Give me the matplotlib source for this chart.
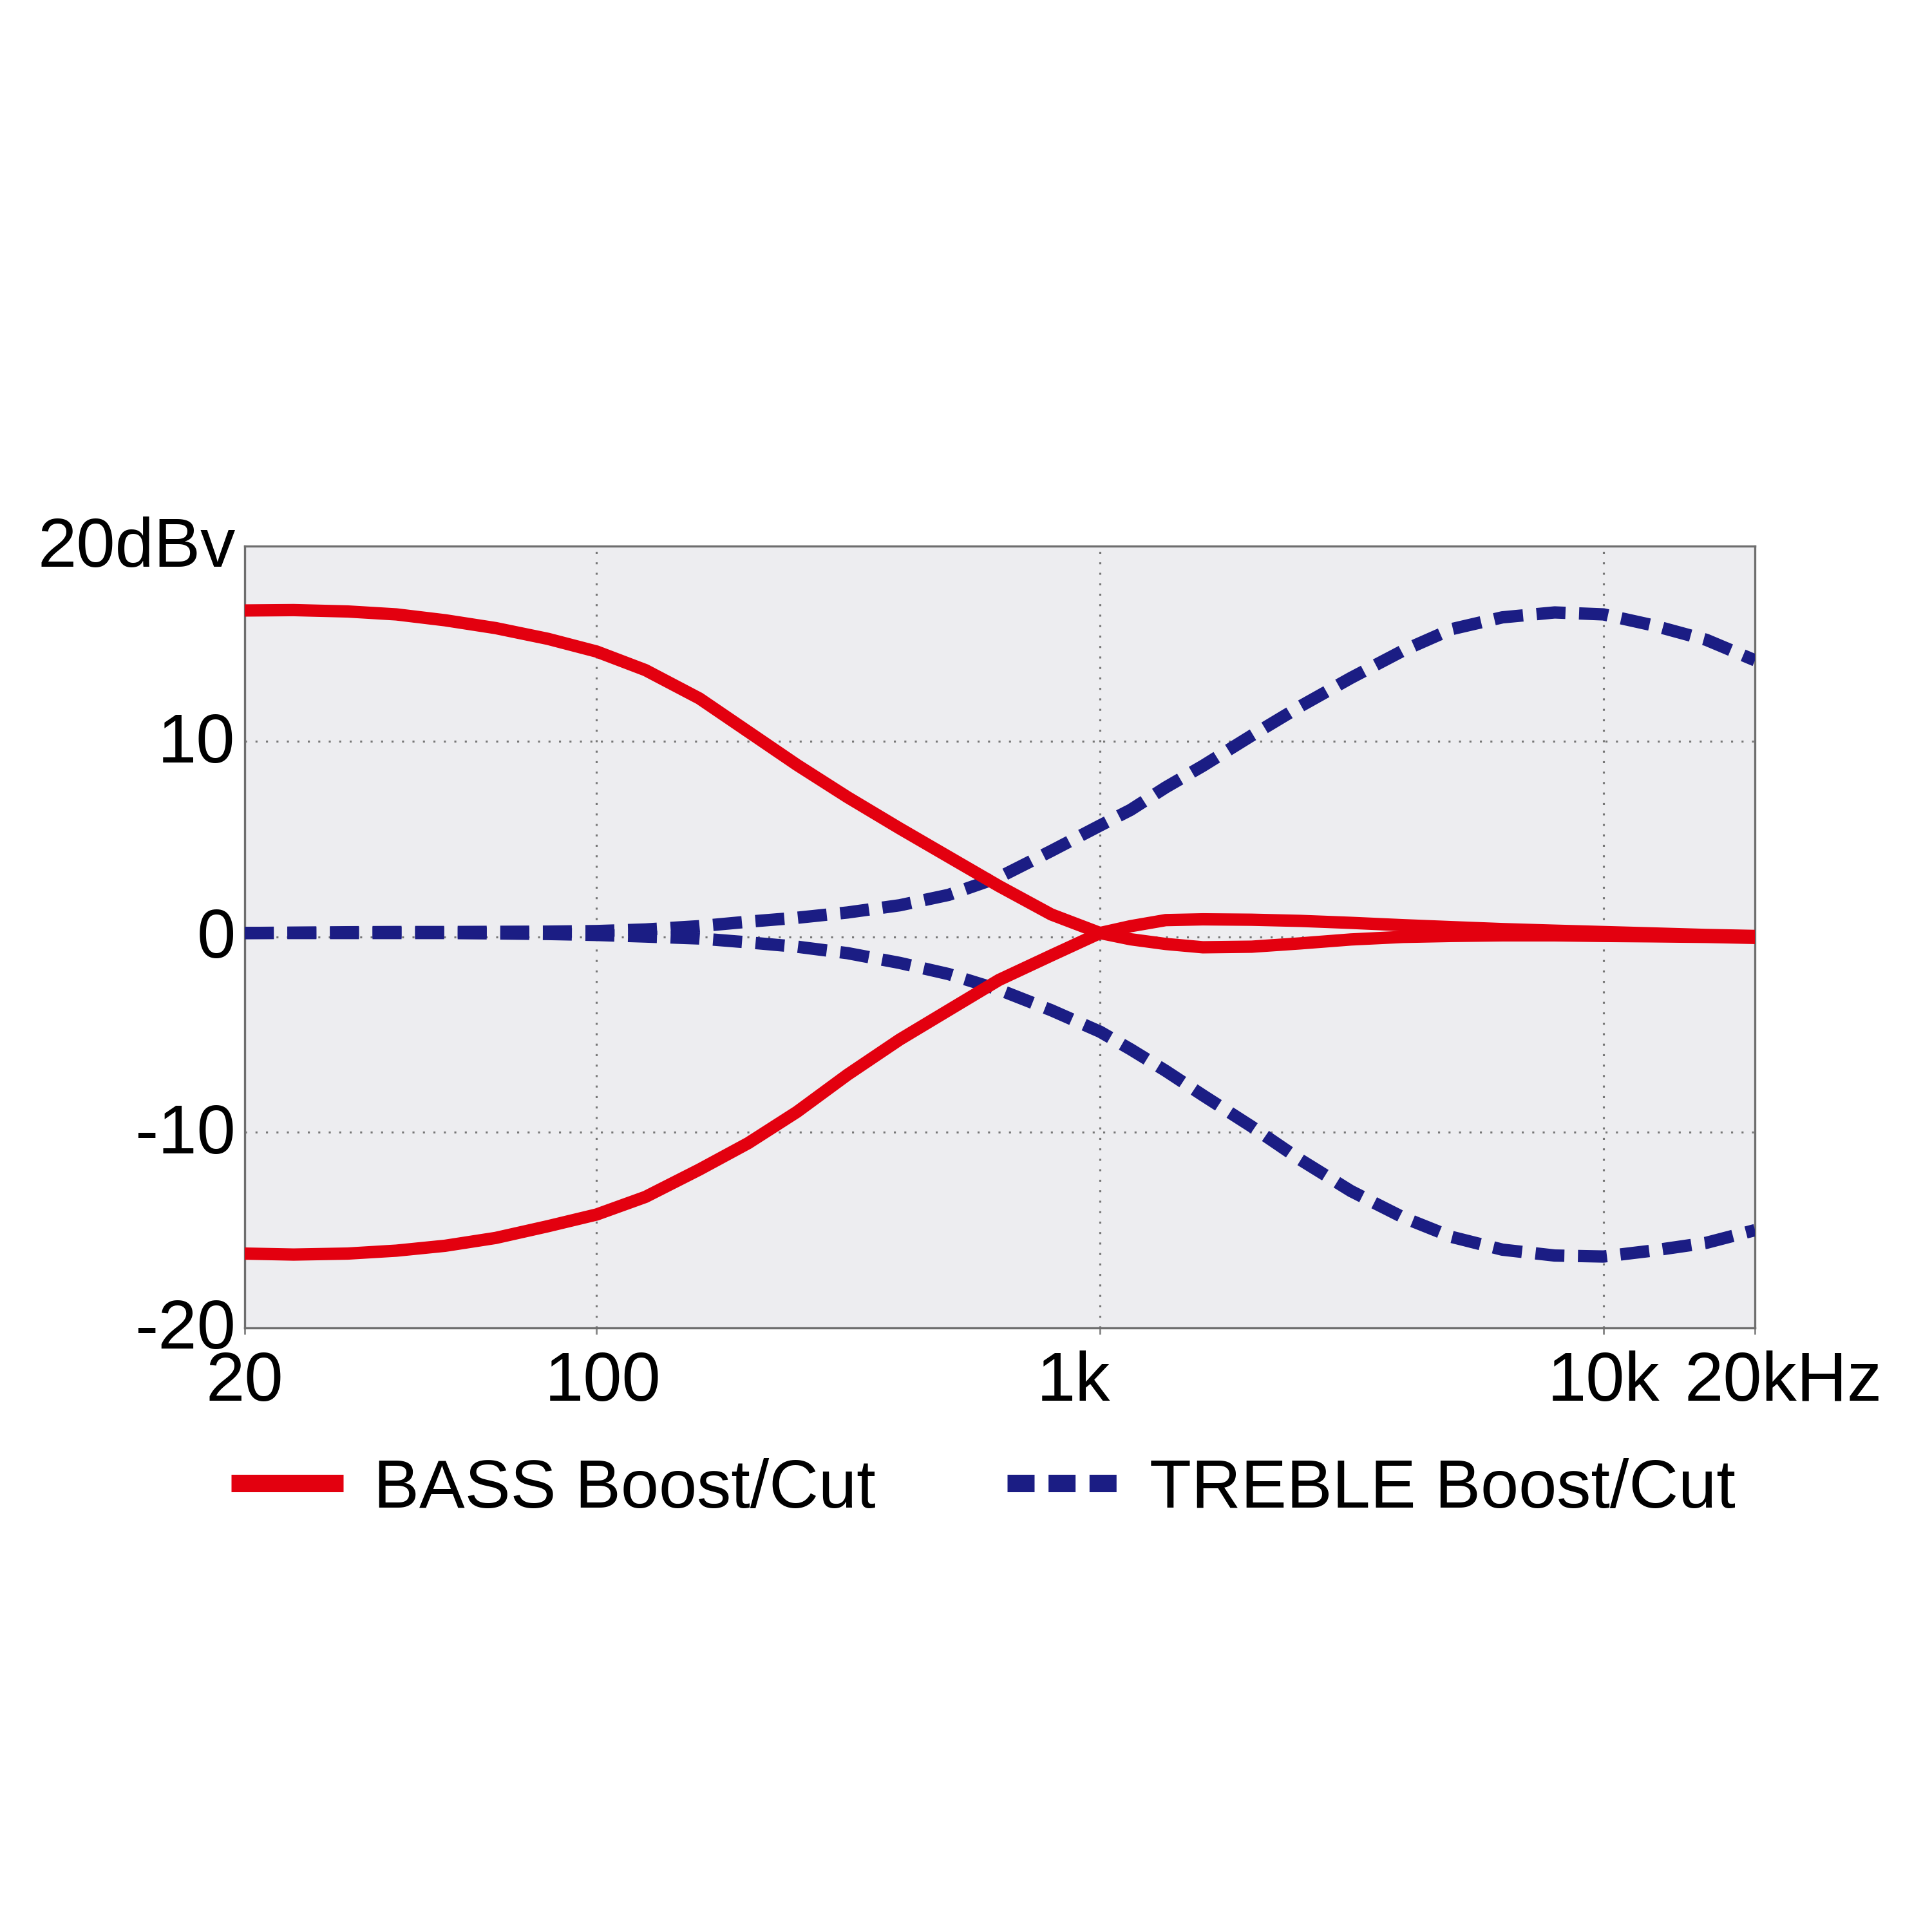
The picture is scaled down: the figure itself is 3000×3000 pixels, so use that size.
import matplotlib
matplotlib.use("Agg")
import matplotlib.pyplot as plt
from matplotlib.lines import Line2D
from matplotlib.transforms import ScaledTranslation

plt.rcParams['font.family'] = ['Liberation Sans', 'DejaVu Sans']

# ---- data ----
freq = [20, 25, 32, 40, 50, 63, 80, 100, 125, 160, 200, 250, 315, 400, 500,
        630, 800, 1000, 1150, 1350, 1600, 2000, 2500, 3150, 4000, 5000, 6300,
        8000, 10000, 12500, 16000, 20000]

bass_boost = [16.7, 16.72, 16.65, 16.5, 16.2, 15.8, 15.25, 14.6, 13.65, 12.2,
              10.5, 8.8, 7.15, 5.55, 4.1, 2.6, 1.15, 0.2, -0.12, -0.36, -0.53,
              -0.5, -0.33, -0.13, 0.0, 0.05, 0.08, 0.08, 0.05, 0.03, 0.0, -0.05]
bass_cut = [-16.2, -16.25, -16.2, -16.05, -15.8, -15.4, -14.8, -14.2, -13.3,
            -11.9, -10.55, -8.95, -7.05, -5.25, -3.75, -2.2, -0.95, 0.2, 0.55,
            0.86, 0.9, 0.88, 0.82, 0.72, 0.6, 0.5, 0.4, 0.32, 0.25, 0.18, 0.1,
            0.05]
treble_boost = [0.2, 0.22, 0.24, 0.25, 0.25, 0.26, 0.27, 0.3, 0.38, 0.55, 0.78,
                0.98, 1.25, 1.62, 2.15, 3.05, 4.4, 5.7, 6.5, 7.65, 8.75, 10.3,
                11.8, 13.25, 14.65, 15.75, 16.35, 16.6, 16.5, 15.95, 15.2,
                14.15]
treble_cut = [0.2, 0.2, 0.2, 0.2, 0.2, 0.18, 0.15, 0.1, 0.02, -0.08, -0.28,
              -0.5, -0.83, -1.33, -1.9, -2.7, -3.75, -4.85, -5.75, -6.85, -8.1,
              -9.7, -11.4, -13.0, -14.35, -15.35, -16.0, -16.3, -16.35, -16.05,
              -15.65, -15.0]

x_ticks = [20, 100, 1000, 10000, 20000]
x_labels = ['20', '100', '1k', '10k', '20kHz']
y_ticks = [-20, -10, 0, 10, 20]
y_labels = ['-20', '-10', '0', '10', '20dBv']
legend_labels = ['BASS Boost/Cut', 'TREBLE Boost/Cut']

# ---- styling ----
RED = '#E3000F'
BLUE = '#1B1D84'
FS = 26

fig = plt.figure(figsize=(10, 10), dpi=300)
fig.patch.set_facecolor('white')
ax = fig.add_axes([0.1267, 0.3127, 0.7817, 0.4047])
ax.set_facecolor('#EDEDF0')

ax.set_xscale('log')
ax.set_xlim(20, 20000)
ax.set_ylim(-20, 20)

lw = 4.6
dash = (2.35, 1.1)
ax.plot(freq, treble_boost, color=BLUE, lw=lw, dashes=dash, zorder=3)
ax.plot(freq, treble_cut, color=BLUE, lw=lw, dashes=dash, zorder=3)
ax.plot(freq, bass_boost, color=RED, lw=lw, solid_joinstyle='round', zorder=4)
ax.plot(freq, bass_cut, color=RED, lw=lw, solid_joinstyle='round', zorder=4)

# grid
for v in [100, 1000, 10000]:
    ax.axvline(v, color='#777777', lw=0.75, dashes=(1, 4.2), zorder=1)
for v in [-10, 0, 10]:
    ax.axhline(v, color='#777777', lw=0.75, dashes=(1, 4.2), zorder=1)

for s in ax.spines.values():
    s.set_color('#6E6E6E')
    s.set_linewidth(0.8)

ax.set_xticks(x_ticks)
ax.set_xticklabels(x_labels)
ax.xaxis.set_minor_locator(matplotlib.ticker.NullLocator())
ax.set_yticks(y_ticks)
ax.set_yticklabels(y_labels)
ax.tick_params(axis='x', length=2.5, width=0.7, color='#888888', pad=6,
               labelsize=FS, direction='out')
ax.tick_params(axis='y', length=0, pad=3.5, labelsize=FS)

# label-specific horizontal offsets (points)
offsets = {'100': 2.4, '1k': -9.8, '20kHz': 10.5}
for lab in ax.get_xticklabels():
    dx = offsets.get(lab.get_text(), 0)
    if dx:
        lab.set_transform(lab.get_transform() +
                          ScaledTranslation(dx / 72, 0, fig.dpi_scale_trans))
for lab in ax.get_yticklabels():
    lab.set_transform(lab.get_transform() +
                      ScaledTranslation(0, 1.6 / 72, fig.dpi_scale_trans))

# legend
h_red = Line2D([], [], color=RED, lw=6.5, solid_capstyle='butt')
h_blue = Line2D([], [], color=BLUE, lw=6.5, dashes=(1.55, 0.8),
                dash_capstyle='butt')
fig.legend([h_red, h_blue], legend_labels, loc='center left',
           bbox_to_anchor=(0.1197, 0.229), ncol=2, frameon=False,
           fontsize=25.5, handlelength=1.64, handletextpad=0.44,
           columnspacing=1.92, borderpad=0, borderaxespad=0)

fig.savefig('out.png', dpi=300, facecolor='white')
